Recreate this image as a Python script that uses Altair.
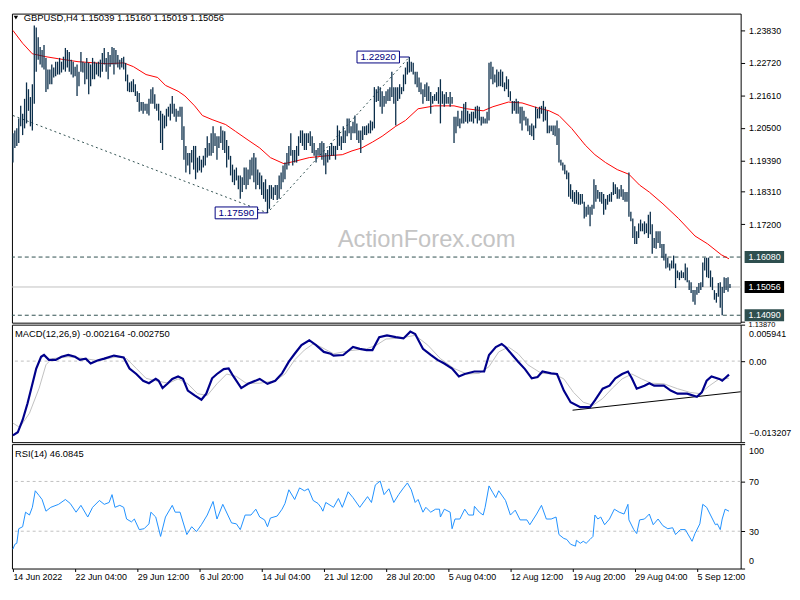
import altair as alt
import pandas as pd

FONT = "Liberation Sans"
W = 738
H_MAIN, H_MACD, H_RSI = 313, 119, 126
XDOM = [-0.5, 374.5]
BAR_COLOR = "#0b2e4a"

TITLE = "GBPUSD,H4  1.15039 1.15160 1.15019 1.15056"
MACD_TITLE = "MACD(12,26,9) -0.002164 -0.002750"
RSI_TITLE = "RSI(14) 46.0845"
WATERMARK = "ActionForex.com"

# ---- H4 bars (high / low) ----
HIGH = [
    1.2031, 1.2041, 1.2048, 1.2082, 1.2125, 1.2098, 1.2149, 1.2205, 1.2182, 1.2155,
    1.2199, 1.2400, 1.2393, 1.2360, 1.2326, 1.2316, 1.2333, 1.2289, 1.2249, 1.2249,
    1.2266, 1.2256, 1.2276, 1.2276, 1.2289, 1.2276, 1.2293, 1.2323, 1.2316, 1.2309,
    1.2283, 1.2276, 1.2259, 1.2266, 1.2242, 1.2309, 1.2276, 1.2272, 1.2289, 1.2272,
    1.2266, 1.2289, 1.2276, 1.2272, 1.2276, 1.2283, 1.2306, 1.2323, 1.2289, 1.2309,
    1.2299, 1.2326, 1.2323, 1.2316, 1.2299, 1.2283, 1.2289, 1.2293, 1.2272, 1.2232,
    1.2205, 1.2209, 1.2216, 1.2199, 1.2175, 1.2169, 1.2138, 1.2138, 1.2132, 1.2132,
    1.2149, 1.2182, 1.2189, 1.2165, 1.2132, 1.2132, 1.2108, 1.2098, 1.2092, 1.2115,
    1.2122, 1.2132, 1.2159, 1.2132, 1.2115, 1.2108, 1.2122, 1.2122, 1.2055, 1.1988,
    1.1964, 1.1964, 1.1974, 1.1988, 1.1988, 1.1948, 1.1954, 1.1941, 1.1954, 1.1981,
    1.2021, 1.1998, 1.2031, 1.2055, 1.2031, 1.2021, 1.2021, 1.2055, 1.2041, 1.2038,
    1.2008, 1.1988, 1.1954, 1.1924, 1.1907, 1.1914, 1.1887, 1.1887, 1.1881, 1.1914,
    1.1914, 1.1907, 1.1941, 1.1948, 1.1964, 1.1948, 1.1907, 1.1897, 1.1887, 1.1864,
    1.1874, 1.1840, 1.1854, 1.1854, 1.1847, 1.1854, 1.1854, 1.1887, 1.1897, 1.1921,
    1.1931, 1.1964, 1.1988, 1.2031, 1.1974, 1.1974, 1.1988, 1.2021, 1.2041, 1.2041,
    1.2031, 1.2031, 1.2031, 1.2038, 1.2021, 1.1998, 1.1974, 1.1981, 1.1998, 1.2004,
    1.1998, 1.1964, 1.1974, 1.1988, 1.1998, 1.1988, 1.1988, 1.2058, 1.2041, 1.2021,
    1.2055, 1.2041, 1.2082, 1.2082, 1.2055, 1.2071, 1.2092, 1.2065, 1.2041, 1.2041,
    1.2055, 1.2055, 1.2058, 1.2065, 1.2075, 1.2071, 1.2189, 1.2182, 1.2192, 1.2189,
    1.2175, 1.2159, 1.2175, 1.2182, 1.2189, 1.2242, 1.2189, 1.2189, 1.2189, 1.2199,
    1.2189, 1.2232, 1.2256, 1.2276, 1.2292, 1.2276, 1.2272, 1.2242, 1.2242, 1.2222,
    1.2205, 1.2182, 1.2199, 1.2205, 1.2192, 1.2172, 1.2159, 1.2165, 1.2172, 1.2189,
    1.2216, 1.2175, 1.2165, 1.2172, 1.2155, 1.2172, 1.2155, 1.2088, 1.2088, 1.2108,
    1.2082, 1.2108, 1.2132, 1.2138, 1.2108, 1.2098, 1.2105, 1.2105, 1.2122, 1.2125,
    1.2122, 1.2088, 1.2088, 1.2082, 1.2105, 1.2272, 1.2276, 1.2259, 1.2232, 1.2249,
    1.2242, 1.2249, 1.2242, 1.2205, 1.2226, 1.2216, 1.2175, 1.2142, 1.2142, 1.2149,
    1.2142, 1.2122, 1.2122, 1.2108, 1.2088, 1.2082, 1.2058, 1.2065, 1.2058, 1.2122,
    1.2115, 1.2122, 1.2125, 1.2142, 1.2122, 1.2108, 1.2058, 1.2058, 1.2058, 1.2058,
    1.2075, 1.2048, 1.1941, 1.1931, 1.1924, 1.1904, 1.1897, 1.1857, 1.1837, 1.1830,
    1.1837, 1.1830, 1.1824, 1.1824, 1.1797, 1.1780, 1.1787, 1.1780, 1.1787, 1.1874,
    1.1854, 1.1837, 1.1830, 1.1830, 1.1824, 1.1807, 1.1820, 1.1824, 1.1830, 1.1864,
    1.1857, 1.1847, 1.1840, 1.1854, 1.1840, 1.1830, 1.1830, 1.1897, 1.1763, 1.1740,
    1.1713, 1.1696, 1.1723, 1.1736, 1.1723, 1.1730, 1.1723, 1.1753, 1.1763, 1.1720,
    1.1673, 1.1696, 1.1696, 1.1696, 1.1653, 1.1653, 1.1619, 1.1606, 1.1586, 1.1596,
    1.1613, 1.1586, 1.1562, 1.1556, 1.1562, 1.1556, 1.1586, 1.1572, 1.1529, 1.1522,
    1.1495, 1.1495, 1.1506, 1.1519, 1.1522, 1.1589, 1.1606, 1.1606, 1.1606, 1.1562,
    1.1539, 1.1495, 1.1485, 1.1519, 1.1522, 1.1506, 1.1539, 1.1536, 1.1539, 1.1516,
]
LOW = [
    1.1931, 1.1981, 1.1988, 1.1998, 1.2055, 1.2025, 1.2048, 1.2065, 1.2108, 1.2055,
    1.2041, 1.2132, 1.2242, 1.2283, 1.2266, 1.2256, 1.2249, 1.2172, 1.2182, 1.2199,
    1.2199, 1.2222, 1.2226, 1.2232, 1.2232, 1.2239, 1.2249, 1.2242, 1.2256, 1.2242,
    1.2232, 1.2222, 1.2226, 1.2159, 1.2192, 1.2242, 1.2239, 1.2199, 1.2216, 1.2165,
    1.2192, 1.2216, 1.2216, 1.2232, 1.2226, 1.2222, 1.2242, 1.2266, 1.2242, 1.2216,
    1.2259, 1.2266, 1.2232, 1.2266, 1.2256, 1.2249, 1.2256, 1.2249, 1.2209, 1.2175,
    1.2172, 1.2172, 1.2172, 1.2159, 1.2138, 1.2105, 1.2108, 1.2098, 1.2108, 1.2098,
    1.2092, 1.2132, 1.2132, 1.2115, 1.2108, 1.2075, 1.1998, 1.1974, 1.2048, 1.2055,
    1.2088, 1.2075, 1.2098, 1.2088, 1.2071, 1.2088, 1.2088, 1.2008, 1.1941, 1.1897,
    1.1921, 1.1891, 1.1931, 1.1907, 1.1874, 1.1897, 1.1904, 1.1897, 1.1914, 1.1921,
    1.1948, 1.1954, 1.1954, 1.1964, 1.1988, 1.1941, 1.1981, 1.1998, 1.1974, 1.1964,
    1.1914, 1.1941, 1.1887, 1.1864, 1.1854, 1.1870, 1.1840, 1.1807, 1.1830, 1.1854,
    1.1840, 1.1854, 1.1874, 1.1887, 1.1864, 1.1840, 1.1854, 1.1840, 1.1820, 1.1807,
    1.1797, 1.1759, 1.1773, 1.1807, 1.1803, 1.1820, 1.1803, 1.1807, 1.1840, 1.1864,
    1.1874, 1.1907, 1.1921, 1.1954, 1.1921, 1.1931, 1.1931, 1.1954, 1.1998, 1.1988,
    1.1974, 1.1974, 1.1998, 1.1988, 1.1964, 1.1954, 1.1931, 1.1954, 1.1954, 1.1941,
    1.1921, 1.1891, 1.1931, 1.1941, 1.1954, 1.1954, 1.1941, 1.1974, 1.1988, 1.1974,
    1.1998, 1.1998, 1.2021, 1.2031, 1.2008, 1.2031, 1.2031, 1.2008, 1.1998, 1.1964,
    1.2008, 1.2025, 1.2025, 1.2031, 1.2031, 1.2041, 1.2048, 1.2138, 1.2142, 1.2122,
    1.2098, 1.2122, 1.2132, 1.2142, 1.2142, 1.2155, 1.2132, 1.2058, 1.2142, 1.2149,
    1.2165, 1.2175, 1.2199, 1.2232, 1.2239, 1.2242, 1.2232, 1.2199, 1.2189, 1.2172,
    1.2165, 1.2132, 1.2155, 1.2142, 1.2142, 1.2098, 1.2132, 1.2142, 1.2142, 1.2132,
    1.2065, 1.2132, 1.2122, 1.2132, 1.2132, 1.2122, 1.2132, 1.1998, 1.2031, 1.2055,
    1.2048, 1.2065, 1.2065, 1.2071, 1.2065, 1.2071, 1.2071, 1.2065, 1.2082, 1.2065,
    1.2075, 1.2058, 1.2065, 1.2065, 1.2065, 1.2075, 1.2216, 1.2199, 1.2205, 1.2189,
    1.2192, 1.2192, 1.2189, 1.2175, 1.2182, 1.2155, 1.2142, 1.2098, 1.2108, 1.2098,
    1.2098, 1.2065, 1.2041, 1.2075, 1.2058, 1.2038, 1.2025, 1.2021, 1.2008, 1.2048,
    1.2082, 1.2082, 1.2098, 1.2071, 1.2075, 1.2031, 1.2031, 1.2038, 1.2025, 1.2021,
    1.1991, 1.1931, 1.1921, 1.1904, 1.1891, 1.1874, 1.1814, 1.1807, 1.1797, 1.1790,
    1.1790, 1.1787, 1.1787, 1.1790, 1.1740, 1.1746, 1.1753, 1.1713, 1.1753, 1.1773,
    1.1797, 1.1807, 1.1797, 1.1790, 1.1753, 1.1770, 1.1787, 1.1797, 1.1797, 1.1820,
    1.1824, 1.1807, 1.1807, 1.1814, 1.1803, 1.1797, 1.1797, 1.1746, 1.1730, 1.1673,
    1.1653, 1.1653, 1.1673, 1.1696, 1.1696, 1.1686, 1.1690, 1.1673, 1.1686, 1.1619,
    1.1639, 1.1636, 1.1656, 1.1639, 1.1606, 1.1596, 1.1569, 1.1572, 1.1562, 1.1569,
    1.1569, 1.1502, 1.1536, 1.1529, 1.1536, 1.1536, 1.1529, 1.1522, 1.1495, 1.1485,
    1.1455, 1.1445, 1.1479, 1.1485, 1.1495, 1.1506, 1.1562, 1.1539, 1.1536, 1.1506,
    1.1495, 1.1462, 1.1452, 1.1472, 1.1435, 1.1409, 1.1485, 1.1495, 1.1489, 1.1502,
]

# ---- moving average (red) ----
MA_I = [0, 5, 10, 17, 23.5, 33.5, 42, 48.5, 57, 62, 68.5, 74.5, 78.5, 85, 88.5, 93.5,
        97.5, 102.5, 109.5, 114.5, 121, 127, 132.5, 139.5, 146, 152.5, 161, 169.5, 174.5,
        179.5, 185, 190, 197, 202, 208.5, 217, 227, 233.5, 242, 247, 255, 262, 270, 276,
        281, 287.5, 294.5, 299.5, 305, 311, 317, 322.5, 327.5, 334.5, 342.5, 351, 357.5,
        364.5, 368.5]
MA_P = [1.2383, 1.2339, 1.2303, 1.2293, 1.2286, 1.2276, 1.2272, 1.2269, 1.2272, 1.2259,
        1.2232, 1.2222, 1.2195, 1.2175, 1.2159, 1.2125, 1.2092, 1.2078, 1.2061, 1.2038,
        1.2008, 1.1981, 1.1948, 1.1927, 1.1937, 1.1948, 1.1954, 1.1958, 1.1971, 1.1981,
        1.2001, 1.2021, 1.2055, 1.2075, 1.2115, 1.2125, 1.2125, 1.2115, 1.2108, 1.2122,
        1.2138, 1.2135, 1.2118, 1.2108, 1.2092, 1.2048, 1.1991, 1.1958, 1.1931, 1.1907,
        1.1891, 1.1854, 1.1830, 1.1790, 1.1740, 1.1680, 1.1653, 1.1616, 1.1602]

# ---- price annotations ----
TREND_I = [0, 131, 204]
TREND_P = [1.2092, 1.1759, 1.2292]
PIVOT_I = [131, 204]
PIVOT_P = [1.1759, 1.2292]
PIVOT_LABEL = ["1.17590", "1.22920"]
LEVEL_P = [1.1608, 1.1409]
LAST_P = 1.15056
TAG_P = [1.1608, 1.15056, 1.1409]
TAG_LABEL = ["1.16080", "1.15056", "1.14090"]
TAG_FILL = ["#2f4f4f", "#000000", "#2f4f4f"]
PRICE_TICKS = [1.2383, 1.2272, 1.2161, 1.2050, 1.1939, 1.1831, 1.1720, 1.1387]
BOTTOM_LABEL = "1.13870"
PRICE_DOMAIN = [1.13836, 1.24404]

# ---- MACD ----
MACD_I = [0, 2.5, 5, 7.5, 9.5, 12, 14.5, 16, 18.5, 22, 25, 28.5, 32, 34.5, 37.5, 40, 43.5,
          47, 52, 57, 60, 63.5, 67, 70, 73.5, 75, 77, 79.5, 82, 85, 87.5, 90, 93.5, 97,
          99.5, 102.5, 105, 108.5, 111, 113.5, 117.5, 121, 127, 131, 135, 138.5, 142, 145,
          148.5, 152.5, 156, 160, 163.5, 165, 170, 175, 178.5, 182, 185, 188.5, 192.5, 197,
          201, 204.5, 207, 211, 215, 218.5, 222, 226, 229.5, 232.5, 237.5, 242.5, 245,
          248.5, 251.5, 253.5, 257, 260, 263.5, 267, 270, 272.5, 277, 280, 283.5, 287, 292,
          297, 299.5, 303.5, 307, 310, 313.5, 316.5, 318.5, 321, 325, 327.5, 330, 335,
          338.5, 342, 347, 352, 354.5, 357, 359.5, 363.5, 365, 368.5]
MACD_V = [-0.0121, -0.0116, -0.0096, -0.0069, -0.0044, -0.0012, 0.0007, 0.0010, 0.0002,
          0.0002, 0.0007, 0.0010, 0.0007, 0.0002, 0.0004, -0.0004, 0.0001, 0.0004, 0.0009,
          0.0006, -0.0012, -0.0021, -0.0032, -0.0036, -0.0029, -0.0032, -0.0044, -0.0037,
          -0.0029, -0.0025, -0.0029, -0.0048, -0.0056, -0.0063, -0.0053, -0.0028, -0.0021,
          -0.0013, -0.0012, -0.0025, -0.0044, -0.0037, -0.0029, -0.0037, -0.0032, -0.0020,
          -0.0001, 0.0012, 0.0026, 0.0034, 0.0026, 0.0015, 0.0012, 0.0009, 0.0010, 0.0023,
          0.0020, 0.0018, 0.0018, 0.0039, 0.0042, 0.0039, 0.0037, 0.0048, 0.0044, 0.0020,
          0.0010, 0.0002, -0.0004, -0.0012, -0.0025, -0.0021, -0.0017, -0.0017, 0.0010,
          0.0023, 0.0028, 0.0023, 0.0010, -0.0001, -0.0013, -0.0028, -0.0026, -0.0017,
          -0.0020, -0.0021, -0.0048, -0.0067, -0.0075, -0.0075, -0.0064, -0.0045, -0.0040,
          -0.0028, -0.0021, -0.0017, -0.0028, -0.0045, -0.0040, -0.0036, -0.0040, -0.0040,
          -0.0048, -0.0053, -0.0053, -0.0058, -0.0051, -0.0032, -0.0025, -0.0029, -0.0032,
          -0.0022]
SIG_I = [0, 3.5, 8.5, 13.5, 17, 20, 28.5, 37, 43.5, 53.5, 58.5, 63.5, 68.5, 73.5, 80, 85,
         90, 95, 100, 105, 110, 115, 120, 127, 135, 140, 145, 150, 154.5, 158.5, 165, 173.5,
         182, 187, 192, 197.5, 202, 207, 213.5, 220, 227, 233.5, 240, 245, 250, 255, 260,
         265, 272, 278.5, 283.5, 288.5, 293.5, 298.5, 303.5, 308.5, 313.5, 318.5, 323.5,
         328.5, 335, 342, 348.5, 353.5, 358.5, 363.5, 368.5]
SIG_V = [-0.0101, -0.0108, -0.0085, -0.0044, -0.0006, 0.0004, 0.0007, 0.0004, 0.0001,
         0.0007, 0.0004, -0.0012, -0.0028, -0.0032, -0.0036, -0.0029, -0.0037, -0.0053,
         -0.0056, -0.0037, -0.0021, -0.0025, -0.0036, -0.0036, -0.0032, -0.0021, 0.0002,
         0.0018, 0.0028, 0.0023, 0.0012, 0.0017, 0.0020, 0.0026, 0.0036, 0.0037, 0.0039,
         0.0042, 0.0026, 0.0004, -0.0012, -0.0021, -0.0020, -0.0009, 0.0015, 0.0023,
         0.0012, -0.0006, -0.0020, -0.0021, -0.0029, -0.0051, -0.0067, -0.0072, -0.0061,
         -0.0044, -0.0029, -0.0021, -0.0029, -0.0036, -0.0037, -0.0045, -0.0051, -0.0053,
         -0.0040, -0.0029, -0.0028]
MACD_TREND_I = [288, 374.5]
MACD_TREND_V = [-0.0080, -0.0050]
MACD_TICKS = [0.005941, 0.0, -0.013207]

# ---- RSI ----
RSI_I = [0, 1, 2, 3, 5, 6.5, 8.5, 10, 11.5, 13.5, 15, 17, 19.5, 23.5, 27, 29.5, 32.5, 35,
         38.5, 41, 44.5, 47, 49.5, 51, 52.5, 55, 57, 58.5, 61, 62.5, 65, 67.5, 70, 71, 73.5,
         76, 78.5, 82, 83.5, 86, 89.5, 92, 94.5, 97, 100, 103, 105, 108, 112.5, 115, 117,
         119.5, 122.5, 125, 127, 129.5, 131, 132.5, 136, 138.5, 140, 142, 145, 147.5, 150,
         152, 154.5, 157, 158.5, 159.5, 161, 165, 167.5, 169.5, 172.5, 175, 178.5, 182.5,
         184.5, 186.5, 189, 191, 193.5, 196, 198.5, 201, 203, 205, 207, 208.5, 211, 212.5,
         215, 217.5, 219.5, 220, 222, 225, 226, 227.5, 230, 232.5, 234.5, 237, 237.5, 240,
         242, 243, 245, 247, 248.5, 250, 253.5, 256, 258.5, 261, 264.5, 266, 269.5, 272,
         274.5, 277, 279.5, 281, 283.5, 285, 287, 289.5, 290, 292, 293.5, 295, 297, 298.5,
         299.5, 301, 302.5, 304.5, 307, 309.5, 312, 314.5, 316.5, 317, 319.5, 321, 322.5,
         325, 327.5, 329.5, 332, 334.5, 337, 339.5, 341, 343.5, 346, 349.5, 351, 353.5,
         355, 357, 359.5, 361.5, 362.5, 364, 365, 366.5, 368.5]
RSI_V = [15.6, 19.5, 20.3, 32.0, 33.6, 45.3, 43.0, 49.2, 62.5, 58.6, 55.5, 46.1, 49.2,
         51.6, 55.5, 52.3, 45.3, 50.8, 41.4, 49.2, 54.7, 51.6, 53.1, 59.4, 49.2, 50.8, 49.2,
         39.8, 37.5, 39.8, 31.3, 32.0, 35.9, 45.3, 41.4, 25.8, 41.4, 50.8, 45.3, 45.3, 27.3,
         33.6, 29.7, 35.2, 43.0, 53.9, 39.8, 51.6, 36.7, 35.9, 31.3, 43.0, 43.0, 47.7, 41.4,
         39.1, 33.6, 40.6, 42.2, 47.7, 52.3, 63.3, 55.5, 64.8, 62.5, 64.1, 54.7, 52.3, 49.2,
         46.1, 53.1, 49.2, 56.3, 49.2, 61.7, 57.0, 49.2, 57.8, 53.1, 67.2, 70.3, 59.4, 64.1,
         53.1, 59.4, 64.8, 68.8, 63.3, 53.1, 55.5, 45.3, 49.2, 45.3, 47.7, 47.7, 41.4, 47.7,
         45.3, 32.0, 39.8, 39.8, 47.7, 43.0, 43.0, 50.0, 45.3, 43.0, 49.2, 66.4, 60.9, 57.0,
         62.5, 54.7, 43.0, 46.9, 39.1, 39.1, 35.2, 43.8, 50.8, 39.8, 39.8, 41.4, 27.3, 24.2,
         23.4, 19.5, 18.0, 22.7, 20.3, 21.9, 20.3, 23.4, 25.8, 43.0, 39.8, 41.4, 35.2, 39.8,
         47.7, 45.3, 43.8, 51.6, 39.1, 31.3, 28.1, 39.1, 39.8, 43.8, 35.2, 39.8, 34.4, 32.0,
         32.8, 27.3, 31.3, 31.3, 21.9, 28.1, 35.9, 51.6, 49.2, 41.4, 35.2, 35.9, 31.3, 39.8,
         47.7, 46.1]
RSI_LEVELS = [30, 70]
RSI_TICKS = [0, 30, 70, 100]

DATE_TICKS = [0, 32, 64, 96, 128, 160, 192, 224, 256, 288, 320, 352]
DATE_LABELS = ["14 Jun 2022", "22 Jun 04:00", "29 Jun 12:00", "6 Jul 20:00",
               "14 Jul 04:00", "21 Jul 12:00", "28 Jul 20:00", "5 Aug 04:00",
               "12 Aug 12:00", "19 Aug 20:00", "29 Aug 04:00", "5 Sep 12:00"]

# ---------------- tables ----------------
bars = pd.DataFrame({"i": list(range(len(HIGH))), "high": HIGH, "low": LOW})
ma = pd.DataFrame({"i": MA_I, "p": MA_P})
trend = pd.DataFrame({"i": TREND_I, "p": TREND_P})
pivots = pd.DataFrame({"i": PIVOT_I, "p": PIVOT_P, "lab": PIVOT_LABEL})
levels = pd.DataFrame({"p": LEVEL_P})
last = pd.DataFrame({"p": [LAST_P]})
tags = pd.DataFrame({"p": TAG_P, "lab": TAG_LABEL, "fill": TAG_FILL})
macd = pd.DataFrame({"i": MACD_I, "v": MACD_V})
sig = pd.DataFrame({"i": SIG_I, "v": SIG_V})
macd_trend = pd.DataFrame({"i": MACD_TREND_I, "v": MACD_TREND_V})
zero = pd.DataFrame({"v": [0.0]})
rsi = pd.DataFrame({"i": RSI_I, "v": RSI_V})
rsi_lv = pd.DataFrame({"v": RSI_LEVELS})
one = pd.DataFrame({"t": [TITLE], "m": [MACD_TITLE], "r": [RSI_TITLE], "w": [WATERMARK],
                    "b": [BOTTOM_LABEL]})

xs = alt.Scale(domain=XDOM, nice=False, zero=False)
ps = alt.Scale(domain=PRICE_DOMAIN, nice=False, zero=False)
ms = alt.Scale(domain=[-0.013207, 0.005941], nice=False, zero=False)
rs = alt.Scale(domain=[0, 100], nice=False)

AX = dict(grid=False, domain=False, title=None, tickSize=4, tickColor="black",
          labelFont=FONT, labelFontSize=9, labelColor="black", labelPadding=4)
p_axis = alt.Axis(orient="right", values=PRICE_TICKS,
                  labelExpr="datum.value < 1.14 ? '' : format(datum.value, '.5f')", **AX)
m_axis = alt.Axis(orient="right", values=MACD_TICKS, labelFlush=True, labelFlushOffset=-5,
                  labelExpr="datum.value == 0 ? '0.00' : format(datum.value, '.6f')", **AX)
r_axis = alt.Axis(orient="right", values=RSI_TICKS, labelFlush=True, labelFlushOffset=-3, **AX)
label_js = "[" + ",".join("'%s'" % s for s in DATE_LABELS) + "][round(datum.value / 32)]"
x_axis = alt.Axis(orient="bottom", values=DATE_TICKS, labelExpr=label_js, grid=False,
                  domain=False, title=None, tickSize=3, tickColor="black", labelFont=FONT,
                  labelFontSize=9, labelColor="black", labelAlign="left", labelPadding=1)


def X(f="i"):
    return alt.X(f + ":Q", scale=xs, axis=None)


def XR(f="i"):
    return alt.X(f + ":Q", scale=xs, axis=x_axis)


def PY(f):
    return alt.Y(f + ":Q", scale=ps, axis=p_axis)


# ---------------- price panel ----------------
watermark = alt.Chart(one).mark_text(font=FONT, fontSize=24, color="#c4c4c4").encode(
    x=alt.value(420), y=alt.value(229), text="w:N")
lv = alt.Chart(levels).mark_rule(color="#2f4f4f", strokeDash=[4, 3], strokeWidth=1).encode(y=PY("p"))
lastline = alt.Chart(last).mark_rule(color="#c0c0c0", strokeWidth=1).encode(y=PY("p"))
tl = alt.Chart(trend).mark_line(color="#2f4f4f", strokeDash=[2, 3], strokeWidth=1).encode(
    x=X(), y=PY("p"), order="i:Q")
mal = alt.Chart(ma).mark_line(color="#ff0000", strokeWidth=1).encode(x=X(), y=PY("p"), order="i:Q")
br = alt.Chart(bars).mark_rule(color=BAR_COLOR, strokeWidth=1.3).encode(
    x=X(), y=PY("low"), y2="high:Q")
pbox = alt.Chart(pivots).mark_rect(fill="white", stroke="#000080", strokeWidth=1,
                                   xOffset=-53, x2Offset=-10, yOffset=-6, y2Offset=6).encode(
    x=X(), x2="i:Q", y=PY("p"), y2="p:Q")
plink = alt.Chart(pivots).mark_rule(color="#000080", strokeWidth=1, xOffset=-10).encode(
    x=X(), x2="i:Q", y=PY("p"))
ptext = alt.Chart(pivots).mark_text(font=FONT, fontSize=10, color="#000080", dx=-31.5,
                                    baseline="middle").encode(x=X(), y=PY("p"), text="lab:N")
bottom_lab = alt.Chart(one).mark_text(font=FONT, fontSize=7.5, color="black", align="left",
                                      baseline="alphabetic").encode(
    x=alt.value(W + 8), y=alt.value(H_MAIN + 4.5), text="b:N")
tagbox = alt.Chart(tags).mark_rect(yOffset=-6, y2Offset=6).encode(
    x=alt.value(W + 4), x2=alt.value(W + 44), y=PY("p"), y2="p:Q",
    fill=alt.Fill("fill:N", scale=None))
tagtext = alt.Chart(tags).mark_text(font=FONT, fontSize=9, color="white", align="left",
                                    baseline="middle").encode(
    x=alt.value(W + 8), y=PY("p"), text="lab:N")
tri = alt.Chart(one).mark_point(shape="triangle-down", filled=True, color="black", size=20,
                                opacity=1).encode(x=alt.value(4), y=alt.value(4))
ttl = alt.Chart(one).mark_text(font=FONT, fontSize=9.5, color="black", align="left",
                               baseline="middle").encode(x=alt.value(12), y=alt.value(4), text="t:N")

main = alt.layer(watermark, lastline, lv, tl, mal, br, plink, pbox, ptext, bottom_lab,
                 tagbox, tagtext, tri, ttl).properties(width=W, height=H_MAIN)

# ---------------- MACD panel ----------------
def MY(f):
    return alt.Y(f + ":Q", scale=ms, axis=m_axis)


z = alt.Chart(zero).mark_rule(color="#c0c0c0", strokeDash=[3, 3]).encode(y=MY("v"))
sl = alt.Chart(sig).mark_line(color="#c0c0c0", strokeWidth=1).encode(x=X(), y=MY("v"), order="i:Q")
ml = alt.Chart(macd).mark_line(color="#00008b", strokeWidth=2.2).encode(x=X(), y=MY("v"), order="i:Q")
mt = alt.Chart(macd_trend).mark_line(color="black", strokeWidth=1).encode(x=X(), y=MY("v"))
mtitle = alt.Chart(one).mark_text(font=FONT, fontSize=9.5, color="black", align="left",
                                  baseline="middle").encode(x=alt.value(3), y=alt.value(10), text="m:N")
macd_chart = alt.layer(z, sl, mt, ml, mtitle).properties(width=W, height=H_MACD)

# ---------------- RSI panel ----------------
def RY(f):
    return alt.Y(f + ":Q", scale=rs, axis=r_axis)


rl = alt.Chart(rsi_lv).mark_rule(color="#c0c0c0", strokeDash=[3, 3]).encode(y=RY("v"))
rline = alt.Chart(rsi).mark_line(color="#1e90ff", strokeWidth=1).encode(x=XR(), y=RY("v"), order="i:Q")
rtitle = alt.Chart(one).mark_text(font=FONT, fontSize=9.5, color="black", align="left",
                                  baseline="middle").encode(x=alt.value(3), y=alt.value(10), text="r:N")
rsi_chart = alt.layer(rl, rline, rtitle).properties(width=W, height=H_RSI)

chart = alt.vconcat(main, macd_chart, rsi_chart, spacing=2, bounds="flush").configure(
    padding=0, background="white"
).configure_view(stroke="black", strokeWidth=1)

chart.save("out.html", embed_options={"renderer": "svg", "actions": False})
